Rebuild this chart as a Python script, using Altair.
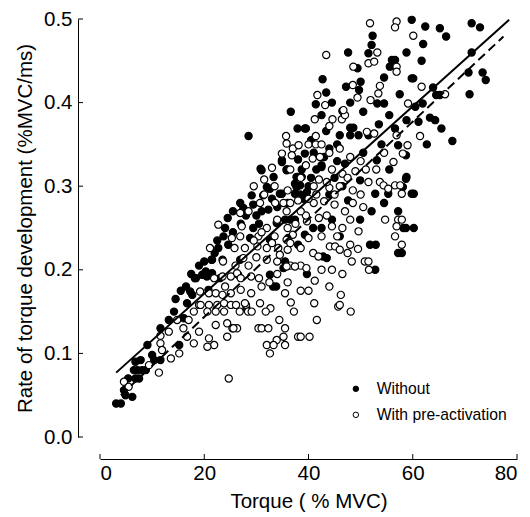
import altair as alt
import pandas as pd

# ---- data ----
series = ["Without", "With pre-activation"]

without_pts = [
    (3.1, 0.040), (4.0, 0.040), (4.6, 0.056), (4.9, 0.050), (6.2, 0.048), (5.4, 0.070), (6.8, 0.070), (7.5, 0.070),
    (6.5, 0.080), (7.2, 0.080), (8.1, 0.080), (8.8, 0.080), (6.8, 0.090), (7.8, 0.092), (10.4, 0.092), (11.6, 0.092),
    (9.1, 0.110), (10.0, 0.098), (11.6, 0.130), (13.2, 0.140), (15.2, 0.110), (14.2, 0.150), (16.1, 0.142), (16.7, 0.160),
    (17.7, 0.170), (17.3, 0.174), (18.2, 0.190), (18.4, 0.190), (19.6, 0.194), (19.8, 0.194), (20.3, 0.198), (20.5, 0.192),
    (21.5, 0.196), (20.8, 0.176), (23.0, 0.190), (26.5, 0.194), (32.6, 0.194), (21.5, 0.212), (23.5, 0.212), (21.4, 0.212),
    (26.9, 0.212), (22.7, 0.226), (24.6, 0.230), (23.7, 0.240), (28.8, 0.238), (32.6, 0.236), (29.4, 0.250), (26.9, 0.280),
    (27.5, 0.274), (29.4, 0.278), (29.1, 0.289), (31.3, 0.289), (31.0, 0.319), (33.3, 0.311), (34.9, 0.329), (35.8, 0.319),
    (37.7, 0.311), (38.4, 0.301), (32.0, 0.299), (32.6, 0.297), (34.5, 0.291), (37.4, 0.291), (39.0, 0.285), (32.3, 0.272),
    (33.9, 0.256), (35.5, 0.260), (37.4, 0.260), (36.1, 0.238), (39.3, 0.242), (38.0, 0.230), (33.2, 0.180), (33.8, 0.180),
    (28.1, 0.154), (35.2, 0.202), (39.7, 0.195), (43.5, 0.214), (42.8, 0.216), (40.9, 0.250), (42.5, 0.250), (36.5, 0.260),
    (49.9, 0.260), (51.8, 0.230), (52.9, 0.230), (57.2, 0.220), (52.8, 0.200), (52.1, 0.270), (57.2, 0.270), (47.6, 0.283),
    (38.4, 0.290), (39.7, 0.293), (34.9, 0.291), (37.4, 0.303), (37.7, 0.299), (49.9, 0.307), (52.8, 0.291), (55.3, 0.291),
    (58.8, 0.311), (53.1, 0.331), (47.0, 0.327), (42.5, 0.325), (38.0, 0.311), (38.7, 0.311), (35.8, 0.320), (39.3, 0.339),
    (57.2, 0.349), (30.8, 0.321), (35.9, 0.320), (38.7, 0.320), (42.5, 0.323), (34.9, 0.331), (38.0, 0.332), (37.9, 0.369),
    (39.3, 0.369), (28.5, 0.360), (43.4, 0.366), (36.6, 0.389), (42.7, 0.428), (43.4, 0.412), (41.4, 0.398), (42.5, 0.385),
    (39.5, 0.369), (53.5, 0.374), (58.8, 0.379), (48.0, 0.370), (48.6, 0.370), (56.6, 0.369), (46.0, 0.361), (48.0, 0.361),
    (49.6, 0.361), (51.5, 0.361), (61.1, 0.377), (50.5, 0.389), (53.2, 0.399), (54.5, 0.399), (48.0, 0.400), (49.7, 0.415),
    (47.2, 0.419), (59.8, 0.429), (56.0, 0.451), (56.6, 0.451), (55.6, 0.443), (49.4, 0.441), (47.6, 0.460), (51.5, 0.459),
    (58.8, 0.460), (52.3, 0.480), (52.1, 0.469), (59.8, 0.499), (62.4, 0.491), (65.2, 0.489), (66.4, 0.479), (62.0, 0.470),
    (71.3, 0.495), (72.9, 0.490), (61.7, 0.450), (71.3, 0.460), (60.1, 0.429), (63.9, 0.418), (70.7, 0.436), (73.4, 0.436),
    (74.0, 0.427), (64.5, 0.409), (65.2, 0.409), (70.9, 0.410), (61.9, 0.399), (63.3, 0.382), (64.3, 0.379), (65.5, 0.369),
    (62.7, 0.350), (67.6, 0.354), (58.7, 0.337), (58.7, 0.309), (58.1, 0.299), (59.8, 0.291), (60.2, 0.291), (58.2, 0.250),
    (58.7, 0.250), (60.2, 0.250), (57.9, 0.220), (35.5, 0.210), (45.0, 0.310), (44.0, 0.290), (46.5, 0.300), (50.5, 0.340),
    (54.0, 0.350), (45.5, 0.350), (41.0, 0.340), (40.0, 0.300), (44.5, 0.260), (46.0, 0.240), (54.5, 0.280), (55.5, 0.320),
    (24.5, 0.262), (25.5, 0.270), (14.5, 0.165), (15.5, 0.175), (16.5, 0.180), (17.5, 0.195), (19.0, 0.205), (20.0, 0.210),
    (22.0, 0.220), (22.5, 0.235), (24.0, 0.250), (25.5, 0.245), (27.0, 0.255), (28.0, 0.265), (30.0, 0.265), (30.5, 0.255),
    (31.0, 0.270), (33.0, 0.285), (34.0, 0.275), (36.0, 0.280), (40.5, 0.310), (41.5, 0.320), (43.0, 0.335), (44.0, 0.345),
    (45.5, 0.330), (40.5, 0.355), (46.5, 0.390), (44.5, 0.400), (50.0, 0.425), (54.5, 0.430), (57.5, 0.410), (60.5, 0.395),
    (55.5, 0.385),
]

with_pts = [
    (4.6, 0.066), (5.5, 0.060), (9.4, 0.086), (11.3, 0.077), (11.6, 0.112), (11.9, 0.104), (11.6, 0.121), (13.2, 0.126),
    (15.2, 0.100), (13.6, 0.094), (14.8, 0.140), (16.7, 0.120), (18.0, 0.150), (19.0, 0.158), (18.0, 0.112), (19.0, 0.126),
    (20.9, 0.118), (21.9, 0.110), (20.6, 0.108), (22.2, 0.134), (24.4, 0.136), (25.4, 0.130), (26.3, 0.130), (24.4, 0.120),
    (24.7, 0.070), (19.2, 0.174), (21.9, 0.190), (23.5, 0.192), (25.1, 0.192), (26.3, 0.196), (20.9, 0.172), (22.2, 0.172),
    (23.5, 0.170), (25.1, 0.172), (19.3, 0.158), (20.9, 0.158), (22.5, 0.158), (23.8, 0.160), (25.1, 0.158), (26.1, 0.158),
    (28.0, 0.158), (20.6, 0.150), (22.2, 0.150), (23.8, 0.150), (26.8, 0.150), (28.4, 0.150), (27.0, 0.190), (29.0, 0.192),
    (30.5, 0.190), (32.5, 0.185), (35.5, 0.172), (31.0, 0.180), (23.6, 0.210), (26.0, 0.205), (27.5, 0.214), (30.0, 0.215),
    (32.0, 0.212), (34.0, 0.210), (36.5, 0.205), (38.5, 0.205), (21.1, 0.226), (25.8, 0.226), (27.8, 0.226), (30.2, 0.228),
    (32.0, 0.226), (34.2, 0.226), (36.0, 0.224), (38.5, 0.226), (22.7, 0.254), (27.2, 0.252), (32.0, 0.250), (25.3, 0.238),
    (26.9, 0.240), (30.4, 0.240), (33.5, 0.240), (37.0, 0.242), (39.7, 0.258), (30.7, 0.280), (33.6, 0.280), (35.2, 0.280),
    (36.5, 0.280), (26.9, 0.268), (35.8, 0.270), (27.8, 0.160), (29.1, 0.150), (30.7, 0.160), (32.7, 0.154), (31.8, 0.150),
    (36.6, 0.161), (37.2, 0.150), (34.4, 0.140), (30.4, 0.130), (31.0, 0.130), (32.3, 0.130), (35.5, 0.130), (25.6, 0.130),
    (38.0, 0.120), (38.5, 0.120), (40.2, 0.120), (35.2, 0.120), (33.9, 0.116), (32.0, 0.110), (33.3, 0.110), (35.5, 0.110),
    (32.6, 0.100), (41.1, 0.160), (41.6, 0.140), (45.7, 0.156), (48.1, 0.150), (46.2, 0.170), (44.0, 0.180), (41.2, 0.187),
    (46.0, 0.158), (35.8, 0.204), (37.4, 0.204), (39.6, 0.202), (48.3, 0.210), (50.8, 0.210), (51.5, 0.210), (51.6, 0.200),
    (40.9, 0.220), (41.9, 0.216), (44.1, 0.228), (45.1, 0.228), (46.0, 0.224), (48.0, 0.230), (35.8, 0.236), (49.6, 0.246),
    (48.0, 0.260), (56.6, 0.240), (57.2, 0.260), (56.9, 0.252), (54.7, 0.260), (57.9, 0.260), (57.9, 0.230), (50.5, 0.275),
    (53.7, 0.305), (54.4, 0.301), (55.3, 0.297), (56.6, 0.301), (57.6, 0.301), (57.9, 0.291), (56.3, 0.329), (58.1, 0.339),
    (59.0, 0.349), (35.8, 0.351), (34.9, 0.339), (37.0, 0.345), (40.0, 0.350), (41.4, 0.350), (42.5, 0.350), (38.1, 0.349),
    (35.7, 0.360), (41.4, 0.360), (36.8, 0.337), (40.8, 0.333), (42.2, 0.335), (44.0, 0.340), (46.0, 0.345), (48.0, 0.335),
    (50.0, 0.330), (44.5, 0.320), (46.5, 0.315), (49.0, 0.318), (51.0, 0.320), (41.0, 0.300), (42.0, 0.308), (44.0, 0.298),
    (46.0, 0.300), (48.5, 0.295), (36.0, 0.295), (38.0, 0.283), (41.0, 0.280), (43.0, 0.282), (45.0, 0.278), (47.0, 0.270),
    (39.5, 0.265), (42.0, 0.262), (44.5, 0.252), (46.5, 0.250), (40.0, 0.238), (42.5, 0.240), (44.0, 0.372), (41.2, 0.380),
    (44.6, 0.380), (46.4, 0.380), (47.0, 0.385), (46.7, 0.391), (43.2, 0.397), (41.7, 0.409), (49.4, 0.406), (51.9, 0.403),
    (53.4, 0.411), (53.7, 0.420), (48.5, 0.421), (43.4, 0.457), (53.2, 0.460), (51.5, 0.447), (52.6, 0.449), (48.6, 0.443),
    (56.9, 0.443), (56.9, 0.437), (51.8, 0.495), (56.9, 0.497), (56.6, 0.490), (60.1, 0.480), (51.2, 0.365), (52.6, 0.363),
    (56.9, 0.361), (59.1, 0.399), (61.7, 0.419), (61.4, 0.360), (66.2, 0.410), (34.0, 0.195), (29.5, 0.300), (31.5, 0.308),
    (33.0, 0.322), (24.0, 0.180), (27.0, 0.176), (29.0, 0.172), (17.0, 0.140), (16.0, 0.130), (34.0, 0.260), (36.0, 0.250),
    (28.5, 0.205), (29.5, 0.235), (31.0, 0.245), (33.0, 0.232), (34.5, 0.218), (36.5, 0.232), (37.5, 0.255), (38.5, 0.270),
    (40.0, 0.285), (41.5, 0.290), (43.5, 0.305), (45.0, 0.290), (47.5, 0.310), (48.5, 0.280), (50.0, 0.290), (51.5, 0.305),
    (53.0, 0.320), (54.5, 0.340), (38.5, 0.310), (36.5, 0.320), (39.5, 0.325), (33.5, 0.300), (31.5, 0.290), (28.5, 0.270),
    (43.5, 0.265), (45.5, 0.240), (47.5, 0.220), (49.5, 0.225), (42.5, 0.200), (44.5, 0.200), (46.5, 0.195), (38.5, 0.175),
    (40.0, 0.175), (36.0, 0.185),
]

# regression lines (end points)
fit_without_x = [3.1, 78.5]
fit_without_y = [0.077, 0.499]
fit_with_x = [4.0, 77.4]
fit_with_y = [0.050, 0.479]

x_ticks = [0, 20, 40, 60, 80]
y_ticks = [0.0, 0.1, 0.2, 0.3, 0.4, 0.5]

# ---- layout ----
W, H = 417, 418
OFF = 22
TICK = 5
FONT = "Liberation Sans"

rows = []
k = 0
for x, y in without_pts:
    rows.append({"x": x, "y": y, "group": series[0], "k": k}); k += 1
for x, y in with_pts:
    rows.append({"x": x, "y": y, "group": series[1], "k": k}); k += 1
pts = pd.DataFrame(rows)

xs = alt.Scale(domain=[0, 80], nice=False, zero=False)
ys = alt.Scale(domain=[0, 0.5], nice=False, zero=False)

common_axis = dict(
    offset=OFF, ticks=False, tickSize=0, grid=False, domain=True,
    domainColor="black", domainWidth=1,
    labelFont=FONT, labelFontSize=20.5, labelColor="black",
    titleFont=FONT, titleFontSize=20.5, titleFontWeight="normal", titleColor="black",
)
xaxis = alt.Axis(values=x_ticks, format="d", labelPadding=4,
                 title="Torque ( % MVC)", titlePadding=8, **common_axis)
yaxis = alt.Axis(values=y_ticks, format=".1f", labelPadding=6,
                 title="Rate of torque development (%MVC/ms)", titlePadding=8, **common_axis)

points = alt.Chart(pts).mark_circle(size=52, stroke="black", strokeWidth=1.2, opacity=1).encode(
    x=alt.X("x:Q", scale=xs, axis=xaxis),
    y=alt.Y("y:Q", scale=ys, axis=yaxis),
    fill=alt.Fill("group:N", scale=alt.Scale(domain=series, range=["black", "white"]),
                  legend=alt.Legend(title=None, orient="none", legendX=248, legendY=362,
                                    direction="vertical", symbolType="circle", symbolSize=30,
                                    symbolStrokeColor="black", symbolStrokeWidth=1,
                                    labelFont=FONT, labelFontSize=15.7, labelColor="black",
                                    labelOffset=13, rowPadding=9, padding=0)),
    order=alt.Order("k:Q"),
)

line_without = alt.Chart(pd.DataFrame({"x": fit_without_x, "y": fit_without_y})).mark_line(
    color="black", strokeWidth=2).encode(
    x=alt.X("x:Q", scale=xs, axis=xaxis), y=alt.Y("y:Q", scale=ys, axis=yaxis))

line_with = alt.Chart(pd.DataFrame({"x": fit_with_x, "y": fit_with_y})).mark_line(
    color="black", strokeWidth=2, strokeDash=[9, 5]).encode(
    x=alt.X("x:Q", scale=xs, axis=xaxis), y=alt.Y("y:Q", scale=ys, axis=yaxis))

xtick_marks = alt.Chart(pd.DataFrame({"x": x_ticks})).mark_rule(color="black", strokeWidth=1).encode(
    x=alt.X("x:Q", scale=xs, axis=xaxis),
    y=alt.value(H + OFF), y2=alt.value(H + OFF - TICK))

ytick_marks = alt.Chart(pd.DataFrame({"y": y_ticks})).mark_rule(color="black", strokeWidth=1).encode(
    y=alt.Y("y:Q", scale=ys, axis=yaxis),
    x=alt.value(-OFF), x2=alt.value(-OFF + TICK))

chart = alt.layer(points, line_without, line_with, xtick_marks, ytick_marks).properties(
    width=W, height=H,
    padding={"left": 100, "top": 19, "right": 13, "bottom": 80},
    autosize=alt.AutoSizeParams(type="none"),
    background="white",
).configure_view(stroke=None)

chart.save("out.html", embed_options={"renderer": "svg", "actions": False})
